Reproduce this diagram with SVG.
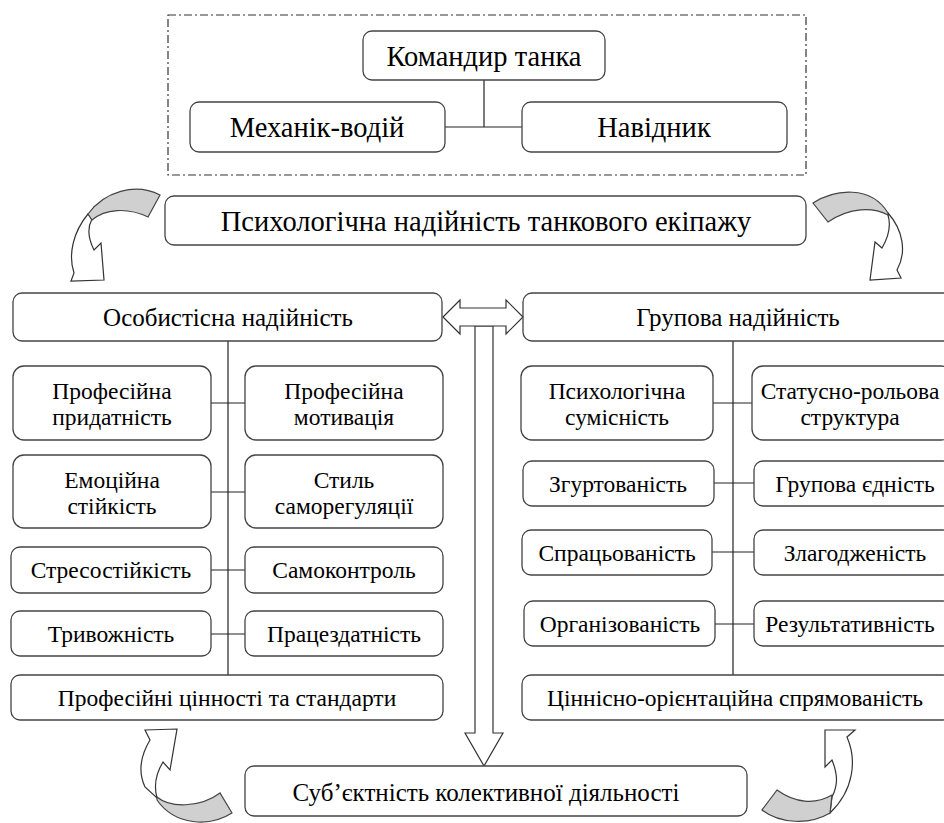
<svg xmlns="http://www.w3.org/2000/svg" width="944" height="823" viewBox="0 0 944 823">
<style>
.b{fill:#fff;stroke:#444;stroke-width:1.3}
text{fill:#000;text-anchor:middle;dominant-baseline:central}
.s{font-size:23.5px}
.m{font-size:25px}
.l{font-size:28.5px}
.c{stroke:#222;stroke-width:1.2;fill:none}
.g{fill:#d0d0d0;stroke:#444;stroke-width:1.2}
.w{fill:#fff;stroke:#333;stroke-width:1.2}
</style>
<rect width="944" height="823" fill="#fff"/>
<rect x="168" y="15" width="638" height="160" fill="none" stroke="#333" stroke-width="1.2" stroke-dasharray="8,3,2,3"/>
<g id="connectors">
<path class="c" d="M484,80V127M445,127H522"/>
<path class="c" d="M228,341V675M211,403H245M211,492H245M211,570H245M211,634H245"/>
<path class="c" d="M733,341V675M713,403H752M714,483H754M712,552H754M715,624H754"/>
<path class="w" d="M475,326L475,733L465,733L484,766L503,733L493,733L493,326Z"/>
<path class="w" d="M443,317L460,300L460,308L506,308L506,300L523,317L506,334L506,326L460,326L460,334Z"/>
<path class="w" d="M88,214C73,232 68,255 74,273L71,281L104,280L101,243L94,250C89,240 87,228 92,219Z"/>
<path class="g" d="M160,195C135,182 104,192 88,214L92,220C105,209 127,207 148,217Z"/>
<path class="w" d="M888,213C903,230 907,252 897,270L901,278L870,280L875,242L882,248C889,236 891,225 888,215Z"/>
<path class="g" d="M813,203C835,189 871,185 888,213L888,215C873,207 850,207 828,222Z"/>
<path class="w" d="M145,730L177,729L170,770L163,762C155,775 154,787 157,798L145,787C138,772 141,755 150,740Z"/>
<path class="g" d="M157,797C170,808 200,808 220,793L232,813C210,827 175,826 157,800Z"/>
<path class="w" d="M825,730L855,730L847,737C857,760 854,790 830,813L832,797C838,785 838,775 832,760L825,767Z"/>
<path class="g" d="M762,810C780,824 810,825 830,813L832,795C815,805 795,803 777,790Z"/>
</g>
<g font-family="Liberation Serif, Times New Roman, serif">
<g id="commander"><rect class="b" x="363" y="31" width="242" height="49" rx="9"/><text class="l" x="484" y="56">Командир танка</text></g>
<g id="driver"><rect class="b" x="190" y="102" width="255" height="50" rx="9"/><text class="l" x="317" y="127">Механік-водій</text></g>
<g id="gunner"><rect class="b" x="522" y="102" width="265" height="50" rx="9"/><text class="l" x="654" y="127">Навідник</text></g>
<g id="title"><rect class="b" x="165" y="196" width="641" height="49" rx="9"/><text class="l" x="486" y="221">Психологічна надійність танкового екіпажу</text></g>
<g id="personal"><rect class="b" x="13" y="293" width="429" height="48" rx="9"/><text class="m" x="228" y="317">Особистісна надійність</text></g>
<g id="group"><rect class="b" x="523" y="293" width="430" height="48" rx="9"/><text class="m" x="738" y="317">Групова надійність</text></g>
<g id="l1"><rect class="b" x="13" y="366" width="198" height="74" rx="11"/><text class="s" x="112" y="391">Професійна</text><text class="s" x="112" y="417">придатність</text></g>
<g id="r1"><rect class="b" x="245" y="366" width="198" height="74" rx="11"/><text class="s" x="344" y="391">Професійна</text><text class="s" x="344" y="417">мотивація</text></g>
<g id="l2"><rect class="b" x="13" y="455" width="198" height="73" rx="11"/><text class="s" x="112" y="480">Емоційна</text><text class="s" x="112" y="506">стійкість</text></g>
<g id="r2"><rect class="b" x="245" y="455" width="198" height="73" rx="11"/><text class="s" x="344" y="480">Стиль</text><text class="s" x="344" y="506">саморегуляції</text></g>
<g id="l3"><rect class="b" x="11" y="547" width="200" height="46" rx="9"/><text class="s" x="111" y="570">Стресостійкість</text></g>
<g id="r3"><rect class="b" x="245" y="547" width="198" height="46" rx="9"/><text class="s" x="344" y="570">Самоконтроль</text></g>
<g id="l4"><rect class="b" x="11" y="611" width="200" height="45" rx="9"/><text class="s" x="111" y="634">Тривожність</text></g>
<g id="r4"><rect class="b" x="245" y="611" width="198" height="45" rx="9"/><text class="s" x="344" y="634">Працездатність</text></g>
<g id="lbottom"><rect class="b" x="11" y="675" width="432" height="45" rx="9"/><text class="s" x="227" y="698">Професійні цінності та стандарти</text></g>
<g id="g1"><rect class="b" x="521" y="366" width="192" height="74" rx="11"/><text class="s" x="617" y="391">Психологічна</text><text class="s" x="617" y="417">сумісність</text></g>
<g id="g2"><rect class="b" x="752" y="366" width="200" height="74" rx="11"/><text class="s" x="850" y="391">Статусно-рольова</text><text class="s" x="850" y="417">структура</text></g>
<g id="g3"><rect class="b" x="523" y="461" width="191" height="45" rx="9"/><text class="s" x="618" y="484">Згуртованість</text></g>
<g id="g4"><rect class="b" x="754" y="461" width="198" height="45" rx="9"/><text class="s" x="855" y="484">Групова єдність</text></g>
<g id="g5"><rect class="b" x="522" y="530" width="190" height="45" rx="9"/><text class="s" x="617" y="553">Спрацьованість</text></g>
<g id="g6"><rect class="b" x="754" y="530" width="198" height="45" rx="9"/><text class="s" x="855" y="553">Злагодженість</text></g>
<g id="g7"><rect class="b" x="524" y="601" width="191" height="45" rx="9"/><text class="s" x="620" y="624">Організованість</text></g>
<g id="g8"><rect class="b" x="754" y="601" width="198" height="45" rx="9"/><text class="s" x="850" y="624">Результативність</text></g>
<g id="gbottom"><rect class="b" x="522" y="675" width="430" height="45" rx="9"/><text class="s" x="735" y="698">Ціннісно-орієнтаційна спрямованість</text></g>
<g id="subject"><rect class="b" x="245" y="766" width="502" height="50" rx="9"/><text class="m" x="486" y="792">Суб’єктність колективної діяльності</text></g>
</g>
</svg>
